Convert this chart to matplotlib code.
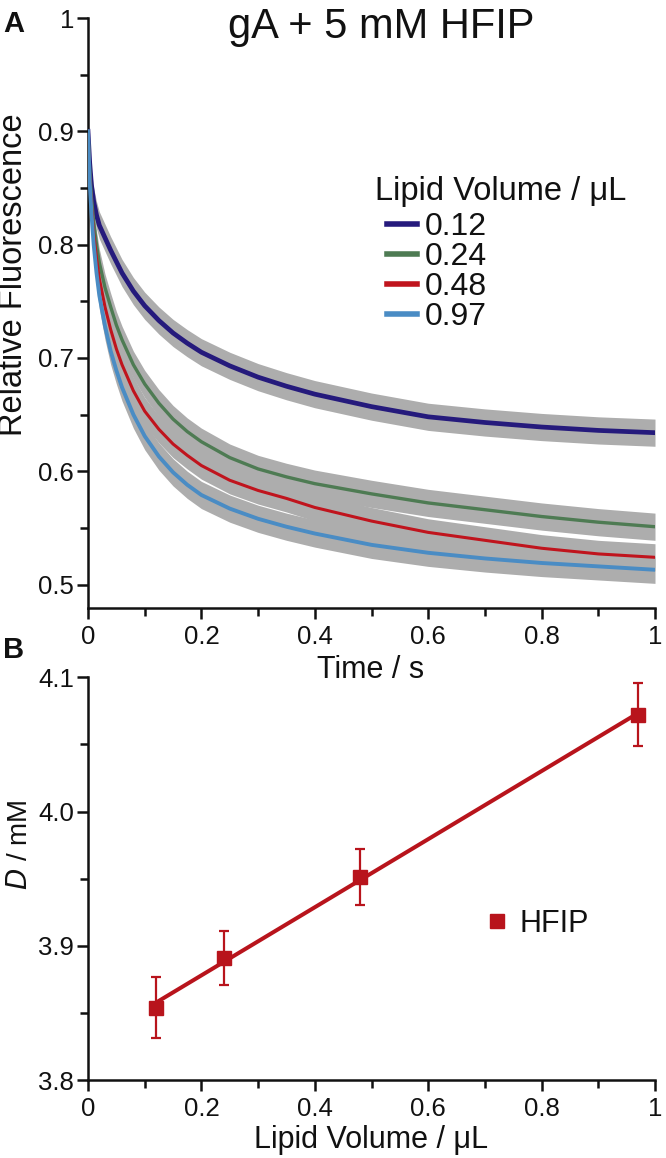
import matplotlib
matplotlib.use("Agg")
import matplotlib.pyplot as plt
from matplotlib.ticker import MultipleLocator
import numpy as np

plt.rcParams['font.family'] = ['Liberation Sans', 'DejaVu Sans']

# ---------------- data ----------------
time_s = [0, 0.003, 0.006, 0.01, 0.015, 0.02, 0.03, 0.04, 0.05, 0.06, 0.08, 0.1,
          0.125, 0.15, 0.175, 0.2, 0.25, 0.3, 0.35, 0.4, 0.5, 0.6, 0.7, 0.8, 0.9, 1.0]
fluor_012 = [0.900, 0.872, 0.853, 0.838, 0.826, 0.817, 0.806, 0.795, 0.785, 0.775,
             0.759, 0.746, 0.733, 0.722, 0.713, 0.705, 0.693, 0.683, 0.675, 0.668,
             0.657, 0.648, 0.643, 0.639, 0.636, 0.634]
fluor_024 = [0.900, 0.865, 0.842, 0.820, 0.800, 0.784, 0.762, 0.745, 0.729, 0.716,
             0.694, 0.677, 0.660, 0.646, 0.635, 0.626, 0.612, 0.602, 0.595, 0.589,
             0.580, 0.572, 0.566, 0.560, 0.555, 0.551]
fluor_048 = [0.900, 0.860, 0.835, 0.810, 0.788, 0.770, 0.745, 0.725, 0.708, 0.694,
             0.671, 0.653, 0.637, 0.624, 0.614, 0.605, 0.592, 0.583, 0.576, 0.568,
             0.556, 0.546, 0.539, 0.532, 0.527, 0.524]
fluor_097 = [0.900, 0.855, 0.828, 0.800, 0.775, 0.755, 0.728, 0.706, 0.689, 0.674,
             0.650, 0.631, 0.613, 0.599, 0.588, 0.579, 0.567, 0.558, 0.551, 0.545,
             0.535, 0.528, 0.523, 0.519, 0.516, 0.513]
series_labels = ['0.12', '0.24', '0.48', '0.97']
series_colors = ['#251a7c', '#4e7b53', '#c0141d', '#4a8cc4']

lipid_volume = [0.12, 0.24, 0.48, 0.97]
D_mM = [3.854, 3.891, 3.951, 4.072]
D_err = [0.023, 0.020, 0.021, 0.0235]

x_ticks = [0, 0.2, 0.4, 0.6, 0.8, 1.0]
x_ticklabels = ['0', '0.2', '0.4', '0.6', '0.8', '1']
yA_ticks = [0.5, 0.6, 0.7, 0.8, 0.9, 1.0]
yA_ticklabels = ['0.5', '0.6', '0.7', '0.8', '0.9', '1']
yB_ticks = [3.8, 3.9, 4.0, 4.1]
yB_ticklabels = ['3.8', '3.9', '4.0', '4.1']

# ---------------- figure ----------------
W, H = 666, 1158
fig = plt.figure(figsize=(W / 100, H / 100), dpi=100)

def fx(px):
    return px / W

def fy(py):
    return 1 - py / H

axA = fig.add_axes([fx(88), fy(608.3), (655 - 88) / W, (608.3 - 18) / H])
axB = fig.add_axes([fx(88), fy(1080), (655 - 88) / W, (1080 - 677.3) / H])

red = '#b8141c'
ink = '#111111'

def style_axis(ax):
    for s in ['top', 'right']:
        ax.spines[s].set_visible(False)
    for s in ['left', 'bottom']:
        ax.spines[s].set_linewidth(1.8)
        ax.spines[s].set_color(ink)
    ax.tick_params(which='major', direction='out', length=8, width=1.8,
                   labelsize=18.5, color=ink, labelcolor=ink)
    ax.tick_params(which='minor', direction='out', length=5.5, width=1.8,
                   color=ink)
    ax.tick_params(axis='y', which='major', pad=2)
    ax.tick_params(axis='x', which='major', pad=4)
    ax.xaxis.set_minor_locator(MultipleLocator(0.1))
    ax.yaxis.set_minor_locator(MultipleLocator(0.05))

# ---------------- panel A ----------------
all_series = [fluor_012, fluor_024, fluor_048, fluor_097]
band = 0.012
for vals in all_series:
    v = np.asarray(vals)
    axA.fill_between(time_s, v - band, v + band, color='#adadad', lw=0, zorder=1)
widths = [3.4, 2.4, 2.2, 2.8]
lines = []
for vals, c, lab, lw in zip(all_series, series_colors, series_labels, widths):
    ln, = axA.plot(time_s, vals, color=c, lw=lw, label=lab, zorder=3,
                   solid_joinstyle='round')
    lines.append(ln)

axA.set_xlim(0, 1)
axA.set_ylim(0.479, 1.0)
axA.set_xticks(x_ticks)
axA.set_xticklabels(x_ticklabels)
axA.set_yticks(yA_ticks)
axA.set_yticklabels(yA_ticklabels)
style_axis(axA)

legA = axA.legend(handles=lines, loc='upper left',
                  bbox_to_anchor=(fx(387), fy(212)), bbox_transform=fig.transFigure,
                  frameon=False, fontsize=23, handlelength=0.94, handletextpad=0.25,
                  labelspacing=0.0, borderpad=0, borderaxespad=0)
for h in legA.legend_handles:
    h.set_linewidth(4)
for t in legA.get_texts():
    t.set_color(ink)
fig.text(fx(375), fy(200), 'Lipid Volume / \u03bcL', fontsize=23.5, ha='left',
         va='baseline', color=ink)

# ---------------- panel B ----------------
coef = np.polyfit(lipid_volume, D_mM, 1)
fit_x = np.array([lipid_volume[0], lipid_volume[-1]])
axB.plot(fit_x, np.polyval(coef, fit_x), color=red, lw=2.9, zorder=2)
axB.errorbar(lipid_volume, D_mM, yerr=D_err, fmt='s', color=red,
             markersize=9.4, elinewidth=1.6, capsize=3.8, capthick=1.6,
             zorder=3)
axB.set_xlim(0, 1)
axB.set_ylim(3.8, 4.1)
axB.set_xticks(x_ticks)
axB.set_xticklabels(x_ticklabels)
axB.set_yticks(yB_ticks)
axB.set_yticklabels(yB_ticklabels)
style_axis(axB)

marker_handle, = axB.plot([], [], 's', color=red, markersize=9.4)
legB = axB.legend(handles=[marker_handle], labels=['HFIP'], loc='center left',
                  bbox_to_anchor=(fx(483), fy(924)), bbox_transform=fig.transFigure,
                  frameon=False, fontsize=22, handlelength=0.9, handletextpad=0.3,
                  borderpad=0, borderaxespad=0)
for t in legB.get_texts():
    t.set_color(ink)

# ---------------- texts ----------------
fig.text(fx(3), fy(32), 'A', fontsize=21, weight='bold', ha='left', va='baseline',
         color=ink)
fig.text(fx(3), fy(658), 'B', fontsize=21, weight='bold', ha='left', va='baseline',
         color=ink)
fig.text(fx(381), fy(38), 'gA + 5 mM HFIP', fontsize=30, ha='center', va='baseline',
         color=ink)
fig.text(fx(14), fy(113), 'Relative Fluorescence', fontsize=23.5, rotation=90,
         ha='center', va='top', color=ink)
fig.text(fx(20), fy(845), '$\\mathit{D}$ / mM', fontsize=20, rotation=90,
         ha='center', va='center', color=ink)
fig.text(fx(371), fy(678), 'Time / s', fontsize=22, ha='center', va='baseline',
         color=ink)
fig.text(fx(371), fy(1148), 'Lipid Volume / \u03bcL', fontsize=22, ha='center',
         va='baseline', color=ink)

fig.savefig('out.png', dpi=100)
